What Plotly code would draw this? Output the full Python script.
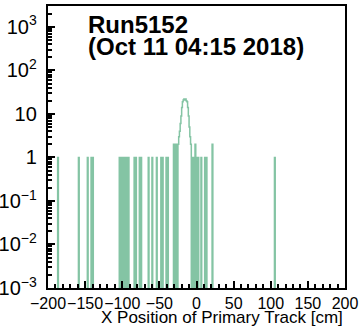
import numpy as np
import plotly.graph_objects as go

# Non-empty 1-cm bins (left edge, cm) and their counts
bin_left = [-187, -159, -147, -142, -140, -104, -102, -100, -98, -96, -94, -92,
            -84, -82, -77, -75, -65, -60, -54, -48, -46, -41, -39,
            -31, -29, -27,
            -25, -24, -23, -22, -21, -20, -19, -18, -17, -16, -15, -14, -13, -12, -11, -10, -9, -8,
            -6, -4, -2, 0, 2, 6, 11, 13, 21, 105]
counts = [1, 1, 1, 1, 1, 1, 1, 1, 1, 1, 1, 1,
          1, 1, 1, 1, 1, 1, 1, 1, 1, 1, 1,
          2, 2, 2,
          2, 3, 4, 6, 9, 14, 19, 21, 22, 21, 22, 20, 19, 14, 9, 5, 3, 2,
          1, 1, 2, 1, 1, 1, 1, 1, 2, 1]

x_min, x_max = -200, 200
edges = np.arange(x_min, x_max + 1, 1)
hist = np.zeros(len(edges) - 1)
for b, c in zip(bin_left, counts):
    hist[b - x_min] = c

floor = 1e-6  # empty bins drawn below the axis minimum (log scale)
yvals = np.where(hist > 0, hist, floor)
xs = list(edges[:-1]) + [edges[-1]]
ys = list(yvals) + [yvals[-1]]

color = "#84c4a4"

fig = go.Figure()
fig.add_trace(go.Scatter(x=xs, y=ys, mode="lines", line=dict(shape="hv", color=color, width=1.5),
                         hoverinfo="skip", showlegend=False))

font = "Liberation Sans, Arial, Helvetica, sans-serif"

fig.update_layout(
    width=359, height=331,
    margin=dict(l=48, r=14, t=6, b=43),
    paper_bgcolor="white", plot_bgcolor="white",
    font=dict(family=font, size=16, color="black"),
    showlegend=False,
)
fig.update_xaxes(
    range=[x_min, x_max], showgrid=False, zeroline=False, automargin=False,
    showline=True, linecolor="black", linewidth=2, mirror=True,
    ticks="inside", ticklen=7, tickwidth=1.5, tickcolor="black",
    dtick=50, tick0=0, tickangle=0,
    minor=dict(dtick=10, ticks="inside", ticklen=4, tickwidth=1.5, tickcolor="black", showgrid=False),
    tickfont=dict(size=16), ticklabelstandoff=0,
)
fig.update_yaxes(
    type="log", range=[-3, 3.48], showgrid=False, zeroline=False, automargin=False,
    showline=True, linecolor="black", linewidth=2, mirror=True,
    ticks="inside", ticklen=7, tickwidth=1.5, tickcolor="black",
    dtick=1, exponentformat="power",
    minor=dict(dtick="D1", ticks="inside", ticklen=4, tickwidth=1.5, tickcolor="black", showgrid=False),
    tickfont=dict(size=16), ticklabelstandoff=6,
)

fig.add_annotation(text="<b>Run5152</b>", xref="paper", yref="paper", x=0.128, y=0.936,
                   xanchor="left", yanchor="middle", showarrow=False,
                   font=dict(family=font, size=24, color="black"))
fig.add_annotation(text="<b>(Oct 11 04:15 2018)</b>", xref="paper", yref="paper", x=0.128, y=0.855,
                   xanchor="left", yanchor="middle", showarrow=False,
                   font=dict(family=font, size=24, color="black"))
fig.add_annotation(text="X Position of Primary Track [cm]", xref="paper", yref="paper", x=1.0, y=-0.106,
                   xanchor="right", yanchor="middle", showarrow=False,
                   font=dict(family=font, size=17, color="black"))

fig.write_html("out.html")
